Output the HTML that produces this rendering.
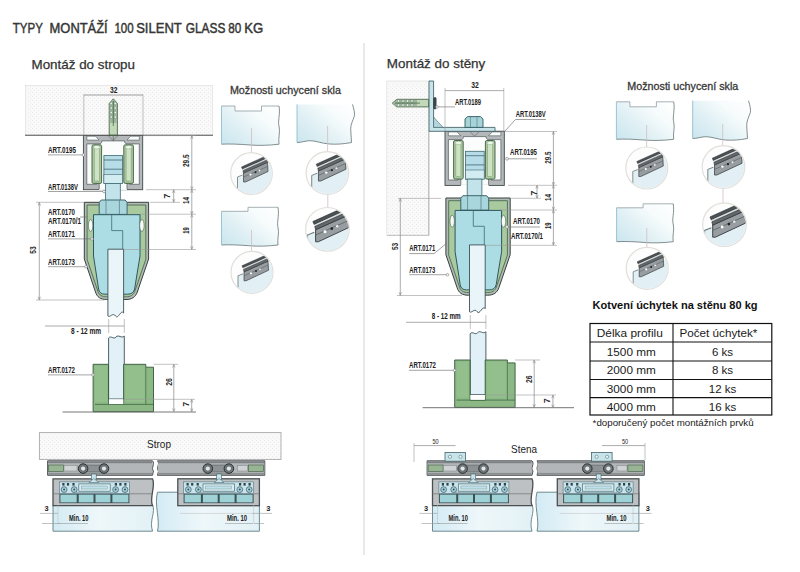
<!DOCTYPE html>
<html><head><meta charset="utf-8"><style>
html,body{margin:0;padding:0;background:#fff;}
body{width:800px;height:572px;overflow:hidden;}
svg{display:block;font-family:"Liberation Sans",sans-serif;}
</style></head><body>
<svg width="800" height="572" viewBox="0 0 800 572">
<defs>
<pattern id="dots" width="4" height="4" patternUnits="userSpaceOnUse">
<rect width="4" height="4" fill="#f9f9f9"/>
<rect x="0" y="0" width="1" height="1" fill="#e9e9e9"/>
<rect x="2" y="2" width="1" height="1" fill="#eeeeee"/>
</pattern>
<linearGradient id="glass" x1="0" y1="0" x2="1" y2="1">
<stop offset="0" stop-color="#cfe8ef"/><stop offset="0.6" stop-color="#eef7fa"/><stop offset="1" stop-color="#d9eef4"/>
</linearGradient>
<linearGradient id="pglass" x1="0" y1="1" x2="1" y2="0.2">
<stop offset="0" stop-color="#c9e5ee"/><stop offset="0.45" stop-color="#e2f1f5"/><stop offset="0.75" stop-color="#f6fbfc"/><stop offset="1" stop-color="#fdfefe"/>
</linearGradient>
<linearGradient id="glassH" x1="0" y1="0" x2="0" y2="1">
<stop offset="0" stop-color="#d7eef6"/><stop offset="1" stop-color="#eaf6fa"/>
</linearGradient>
<linearGradient id="gstrip" x1="0" y1="0" x2="1" y2="0">
<stop offset="0" stop-color="#d3ebf4"/><stop offset="0.45" stop-color="#eef7fa"/><stop offset="1" stop-color="#e2f1f6"/>
</linearGradient>
</defs>
<rect width="800" height="572" fill="#fff"/>

<text x="12.799999999999999" y="33.3" font-size="13.9" textLength="30.099999999999998" lengthAdjust="spacingAndGlyphs" fill="#363636" stroke="#363636" stroke-width="0.45">TYPY</text>
<text x="49.6" y="33.3" font-size="13.9" textLength="58.1" lengthAdjust="spacingAndGlyphs" fill="#363636" stroke="#363636" stroke-width="0.45">MONTÁŽÍ</text>
<text x="114.4" y="33.3" font-size="13.9" textLength="19.199999999999992" lengthAdjust="spacingAndGlyphs" fill="#363636" stroke="#363636" stroke-width="0.45">100</text>
<text x="136.2" y="33.3" font-size="13.9" textLength="45.60000000000001" lengthAdjust="spacingAndGlyphs" fill="#363636" stroke="#363636" stroke-width="0.45">SILENT</text>
<text x="185.7" y="33.3" font-size="13.9" textLength="39.7" lengthAdjust="spacingAndGlyphs" fill="#363636" stroke="#363636" stroke-width="0.45">GLASS</text>
<text x="228.29999999999998" y="33.3" font-size="13.9" textLength="13.000000000000018" lengthAdjust="spacingAndGlyphs" fill="#363636" stroke="#363636" stroke-width="0.45">80</text>
<text x="244.2" y="33.3" font-size="13.9" textLength="18.99999999999999" lengthAdjust="spacingAndGlyphs" fill="#363636" stroke="#363636" stroke-width="0.45">KG</text>
<text x="31.5" y="69.4" font-size="13" text-anchor="start" fill="#333" font-weight="normal" textLength="103.5" lengthAdjust="spacingAndGlyphs" stroke="#333" stroke-width="0.25">Montáž do stropu</text>
<text x="386.8" y="67.9" font-size="13" text-anchor="start" fill="#333" font-weight="normal" textLength="98.5" lengthAdjust="spacingAndGlyphs" stroke="#333" stroke-width="0.25">Montáž do stěny</text>
<line x1="364" y1="43" x2="364" y2="555" stroke="#e4e4e4" stroke-width="1.6" />
<rect x="83.4" y="135.5" width="59.3" height="54.2" fill="#b4b8ba" stroke="#3d4a48" stroke-width="0.9" />
<path d="M86.8,136.2 H95.5 L99.2,140.1 H86.8 Z" fill="#fbfcfc" stroke="#4d5759" stroke-width="0.6" />
<path d="M139.3,136.2 H130.6 L126.9,140.1 H139.3 Z" fill="#fbfcfc" stroke="#4d5759" stroke-width="0.6" />
<path d="M86.8,143.9 H100.3 L101.7,142.3 V140.9 H124.6 V142.3 L126,143.9 H139.3 V184.3 H129.5 V181.7 H127 V189.7 H99.2 V181.7 H96.6 V184.3 H86.8 Z" fill="#fbfcfc" stroke="#4d5759" stroke-width="0.7" />
<line x1="99.2" y1="189.7" x2="127" y2="189.7" stroke="#fff" stroke-width="1.2" />
<path d="M108.5,136 L113,140.5 L117.5,136" fill="none" stroke="#5a6466" stroke-width="0.6" />
<rect x="92.0" y="144.8" width="9.6" height="38.6" fill="#a9c99e" stroke="#3f5a40" stroke-width="0.9" rx="1.5"/>
<rect x="94.3" y="147" width="5" height="34" fill="#cfe2c4" stroke="#7a9c72" stroke-width="0.5" />
<ellipse cx="96.8" cy="147.2" rx="3.2" ry="1.6" fill="#f4f8f2" stroke="#6f9a6a" stroke-width="0.4"/>
<rect x="123.8" y="144.8" width="9.6" height="38.6" fill="#a9c99e" stroke="#3f5a40" stroke-width="0.9" rx="1.5"/>
<rect x="126.1" y="147" width="5" height="34" fill="#cfe2c4" stroke="#7a9c72" stroke-width="0.5" />
<ellipse cx="128.6" cy="147.2" rx="3.2" ry="1.6" fill="#f4f8f2" stroke="#6f9a6a" stroke-width="0.4"/>
<rect x="103.9" y="155.6" width="18.7" height="27.8" fill="#b6dde7" stroke="#3f6870" stroke-width="0.8" />
<rect x="103.9" y="174.3" width="18.7" height="9.1" fill="#d3ecf1" stroke="#3f6870" stroke-width="0.6" />
<line x1="103.9" y1="160" x2="122.6" y2="160" stroke="#3f6870" stroke-width="0.8" />
<line x1="103.9" y1="169.2" x2="122.6" y2="169.2" stroke="#3f6870" stroke-width="0.8" />
<rect x="105.6" y="183.4" width="14.7" height="17.5" fill="#c3e3ea" stroke="#3f6870" stroke-width="0.8" />
<path d="M84.3,202.3 H148.6 V259 L137.3,292 C135.5,297 132,299.5 126,299.5 H106.5 C100.5,299.5 97,297 95.5,292 L84.3,259 Z" fill="#b3b9b6" stroke="#34443c" stroke-width="1.0" />
<path d="M87.1,205 H145.8 V259.4 L134.8,291.2 C133.3,295.3 130.6,296.8 126,296.8 H106.5 C102,296.8 99.2,295.3 97.9,291.2 L87.1,259.4 Z" fill="#a9ca9e" stroke="#3f5f45" stroke-width="0.8" />
<path d="M93.5,214.7 H140 V256 L134.6,289 C133.8,292.5 131.5,294.2 127.5,294.2 H105 C101.2,294.2 99.2,292.5 98.6,289 L93.5,256 Z" fill="#addde4" stroke="#2f5660" stroke-width="1.0" />
<ellipse cx="90.6" cy="225.5" rx="2.2" ry="6" fill="#f7faf7" stroke="#3f5f45" stroke-width="0.6"/>
<ellipse cx="141.9" cy="225.5" rx="2.2" ry="6" fill="#f7faf7" stroke="#3f5f45" stroke-width="0.6"/>
<path d="M111.7,214.2 V230.6 H122.7 V249" fill="none" stroke="#3f6870" stroke-width="0.8" />
<path d="M99.2,214.4 V202.5 L101.2,200 H125.1 L127.1,202.5 V214.4 Z" fill="#a9d6dc" stroke="#2f5a60" stroke-width="0.9" />
<line x1="106" y1="200.4" x2="106" y2="214.2" stroke="#3f6870" stroke-width="0.6" />
<line x1="119.4" y1="200.4" x2="119.4" y2="214.2" stroke="#3f6870" stroke-width="0.6" />
<path d="M107.9,249.2 H123.6 V313 C121,309 118,320 115.5,316 C113,312 110,318 107.9,316 Z" fill="#e9f5f9" stroke="#3a4f55" stroke-width="0.9" />
<path d="M108.6,338 C111,335 113.5,340 116,337 C118.5,334 121.5,339 124.3,336 V399 H108.6 Z" fill="#e2f1f8" stroke="#3a4f55" stroke-width="0.9" />
<path d="M93.1,364.3 H108.5 V404.4 H123.6 V364.3 H145.8 V367.2 H153.5 V411.7 H93.1 Z" fill="#8cb885" stroke="#36583a" stroke-width="0.9" />
<rect x="95" y="366" width="12" height="36" fill="#93bf8c" stroke="none" stroke-width="1" />
<rect x="125.5" y="366" width="19" height="36" fill="#93bf8c" stroke="none" stroke-width="1" />
<line x1="145.8" y1="367.2" x2="145.8" y2="404.4" stroke="#3e6a42" stroke-width="0.7" />
<line x1="95" y1="404.4" x2="153.5" y2="404.4" stroke="#3e6a42" stroke-width="0.8" />
<rect x="108.9" y="399.3" width="14.4" height="4.8" fill="#ffffff" stroke="none" stroke-width="1" />
<rect x="25.5" y="85.5" width="187" height="49.5" fill="url(#dots)" stroke="none" stroke-width="1" />
<rect x="25.5" y="85.5" width="187" height="49.5" fill="none" stroke="#dadada" stroke-width="0.6" />
<line x1="25" y1="135.2" x2="213" y2="135.2" stroke="#555" stroke-width="1.1" />
<line x1="83.8" y1="94.5" x2="83.8" y2="135" stroke="#999" stroke-width="0.6" />
<line x1="143" y1="94.5" x2="143" y2="135" stroke="#999" stroke-width="0.6" />
<line x1="83.8" y1="95" x2="143" y2="95" stroke="#777" stroke-width="0.7" />
<text x="113.8" y="92.5" font-size="8.4" text-anchor="middle" fill="#222" font-weight="bold" textLength="7.5" lengthAdjust="spacingAndGlyphs" >32</text>
<path d="M113.3,98.8 L117.4,103.5 V135 H109.2 V103.5 Z" fill="#c3d8b9" stroke="#3b5a3e" stroke-width="0.8" />
<path d="M113.3,99.6 L116.8,103.8 V123 H109.8 V103.8 Z" fill="#9db59c" stroke="none" stroke-width="1" />
<circle cx="111.3" cy="103.5" r="1.25" fill="#f2f6f0" stroke="#4d6b50" stroke-width="0.4"/>
<circle cx="115.3" cy="103.5" r="1.25" fill="#f2f6f0" stroke="#4d6b50" stroke-width="0.4"/>
<circle cx="111.3" cy="108" r="1.25" fill="#f2f6f0" stroke="#4d6b50" stroke-width="0.4"/>
<circle cx="115.3" cy="108" r="1.25" fill="#f2f6f0" stroke="#4d6b50" stroke-width="0.4"/>
<circle cx="111.3" cy="112.5" r="1.25" fill="#f2f6f0" stroke="#4d6b50" stroke-width="0.4"/>
<circle cx="115.3" cy="112.5" r="1.25" fill="#f2f6f0" stroke="#4d6b50" stroke-width="0.4"/>
<circle cx="111.3" cy="117" r="1.25" fill="#f2f6f0" stroke="#4d6b50" stroke-width="0.4"/>
<circle cx="115.3" cy="117" r="1.25" fill="#f2f6f0" stroke="#4d6b50" stroke-width="0.4"/>
<line x1="113.3" y1="101" x2="113.3" y2="126" stroke="#3b5a3e" stroke-width="0.7" />
<line x1="113.3" y1="135" x2="113.3" y2="141" stroke="#586e55" stroke-width="0.7" />
<text x="48" y="153" font-size="8.4" text-anchor="start" fill="#222" font-weight="bold" textLength="28" lengthAdjust="spacingAndGlyphs" >ART.0195</text>
<line x1="48" y1="154.9" x2="83.4" y2="154.9" stroke="#666" stroke-width="0.6" />
<circle cx="83.4" cy="154.9" r="1.3" fill="#fff" stroke="#777" stroke-width="0.6"/>
<text x="48" y="189.6" font-size="8.4" text-anchor="start" fill="#222" font-weight="bold" textLength="30" lengthAdjust="spacingAndGlyphs" >ART.0138V</text>
<line x1="48" y1="191.5" x2="104" y2="191.5" stroke="#666" stroke-width="0.6" />
<circle cx="104" cy="191.5" r="1.3" fill="#fff" stroke="#777" stroke-width="0.6"/>
<text x="48" y="214.8" font-size="8.4" text-anchor="start" fill="#222" font-weight="bold" textLength="27" lengthAdjust="spacingAndGlyphs" >ART.0170</text>
<line x1="80" y1="217" x2="87.5" y2="217" stroke="#777" stroke-width="0.7" />
<text x="48" y="224.2" font-size="8.4" text-anchor="start" fill="#222" font-weight="bold" textLength="33" lengthAdjust="spacingAndGlyphs" >ART.0170/1</text>
<text x="48" y="237" font-size="8.4" text-anchor="start" fill="#222" font-weight="bold" textLength="27" lengthAdjust="spacingAndGlyphs" >ART.0171</text>
<line x1="48" y1="238.9" x2="92" y2="238.9" stroke="#666" stroke-width="0.6" />
<circle cx="92" cy="238.9" r="1.3" fill="#fff" stroke="#777" stroke-width="0.6"/>
<text x="48" y="264.8" font-size="8.4" text-anchor="start" fill="#222" font-weight="bold" textLength="27" lengthAdjust="spacingAndGlyphs" >ART.0173</text>
<line x1="48" y1="266.7" x2="86" y2="266.7" stroke="#666" stroke-width="0.6" />
<circle cx="86" cy="266.7" r="1.3" fill="#fff" stroke="#777" stroke-width="0.6"/>
<text x="48" y="373" font-size="8.4" text-anchor="start" fill="#222" font-weight="bold" textLength="27" lengthAdjust="spacingAndGlyphs" >ART.0172</text>
<line x1="48" y1="374.9" x2="93" y2="374.9" stroke="#666" stroke-width="0.6" />
<circle cx="93" cy="374.9" r="1.3" fill="#fff" stroke="#777" stroke-width="0.6"/>
<line x1="146" y1="189.7" x2="196" y2="189.7" stroke="#999" stroke-width="0.6" />
<line x1="150" y1="202.3" x2="180" y2="202.3" stroke="#999" stroke-width="0.6" />
<line x1="140" y1="214.2" x2="196" y2="214.2" stroke="#999" stroke-width="0.6" />
<line x1="124" y1="249.5" x2="196" y2="249.5" stroke="#999" stroke-width="0.6" />
<line x1="144" y1="135.6" x2="196" y2="135.6" stroke="#999" stroke-width="0.6" />
<line x1="191.8" y1="135.8" x2="191.8" y2="189.5" stroke="#888" stroke-width="0.7" />
<path d="M190.60000000000002,138.8 L191.8,135.8 L193.0,138.8" fill="none" stroke="#888" stroke-width="0.6"/>
<path d="M190.60000000000002,186.5 L191.8,189.5 L193.0,186.5" fill="none" stroke="#888" stroke-width="0.6"/>
<text x="189.3" y="160.7" font-size="8.6" text-anchor="middle" fill="#2a2a2a" font-weight="bold" textLength="12.6" lengthAdjust="spacingAndGlyphs" transform="rotate(-90 189.3 160.7)" >29.5</text>
<line x1="173.7" y1="189.9" x2="173.7" y2="202.2" stroke="#888" stroke-width="0.7" />
<path d="M172.5,192.9 L173.7,189.9 L174.89999999999998,192.9" fill="none" stroke="#888" stroke-width="0.6"/>
<path d="M172.5,199.2 L173.7,202.2 L174.89999999999998,199.2" fill="none" stroke="#888" stroke-width="0.6"/>
<text x="170.3" y="196" font-size="8.6" text-anchor="middle" fill="#2a2a2a" font-weight="bold" transform="rotate(-90 170.3 196)" >7</text>
<line x1="191.8" y1="189.9" x2="191.8" y2="214" stroke="#888" stroke-width="0.7" />
<path d="M190.60000000000002,192.9 L191.8,189.9 L193.0,192.9" fill="none" stroke="#888" stroke-width="0.6"/>
<path d="M190.60000000000002,211 L191.8,214 L193.0,211" fill="none" stroke="#888" stroke-width="0.6"/>
<text x="189.2" y="200.5" font-size="8.6" text-anchor="middle" fill="#2a2a2a" font-weight="bold" textLength="7" lengthAdjust="spacingAndGlyphs" transform="rotate(-90 189.2 200.5)" >14</text>
<line x1="191.8" y1="214.4" x2="191.8" y2="249.3" stroke="#888" stroke-width="0.7" />
<path d="M190.60000000000002,217.4 L191.8,214.4 L193.0,217.4" fill="none" stroke="#888" stroke-width="0.6"/>
<path d="M190.60000000000002,246.3 L191.8,249.3 L193.0,246.3" fill="none" stroke="#888" stroke-width="0.6"/>
<text x="189.2" y="230.5" font-size="8.6" text-anchor="middle" fill="#2a2a2a" font-weight="bold" textLength="6.5" lengthAdjust="spacingAndGlyphs" transform="rotate(-90 189.2 230.5)" >19</text>
<line x1="36" y1="202.3" x2="84" y2="202.3" stroke="#999" stroke-width="0.6" />
<line x1="36" y1="300" x2="104" y2="300" stroke="#999" stroke-width="0.6" />
<line x1="39.3" y1="202.5" x2="39.3" y2="299.8" stroke="#888" stroke-width="0.7" />
<path d="M38.099999999999994,205.5 L39.3,202.5 L40.5,205.5" fill="none" stroke="#888" stroke-width="0.6"/>
<path d="M38.099999999999994,296.8 L39.3,299.8 L40.5,296.8" fill="none" stroke="#888" stroke-width="0.6"/>
<text x="36.3" y="250" font-size="8.6" text-anchor="middle" fill="#2a2a2a" font-weight="bold" textLength="7.4" lengthAdjust="spacingAndGlyphs" transform="rotate(-90 36.3 250)" >53</text>
<line x1="45" y1="326" x2="124.5" y2="326" stroke="#888" stroke-width="0.7" />
<line x1="108.7" y1="319" x2="108.7" y2="333" stroke="#999" stroke-width="0.6" />
<line x1="124.3" y1="319" x2="124.3" y2="333" stroke="#999" stroke-width="0.6" />
<text x="86" y="334" font-size="8.4" text-anchor="middle" fill="#222" font-weight="bold" textLength="30" lengthAdjust="spacingAndGlyphs" >8 - 12 mm</text>
<line x1="62.5" y1="412" x2="196" y2="412" stroke="#666" stroke-width="0.9" />
<line x1="153.5" y1="364.3" x2="178" y2="364.3" stroke="#999" stroke-width="0.6" />
<line x1="124" y1="399.3" x2="195" y2="399.3" stroke="#999" stroke-width="0.6" />
<line x1="173.8" y1="364.5" x2="173.8" y2="411.5" stroke="#888" stroke-width="0.7" />
<path d="M172.60000000000002,367.5 L173.8,364.5 L175.0,367.5" fill="none" stroke="#888" stroke-width="0.6"/>
<path d="M172.60000000000002,408.5 L173.8,411.5 L175.0,408.5" fill="none" stroke="#888" stroke-width="0.6"/>
<text x="172" y="382" font-size="9" text-anchor="middle" fill="#2a2a2a" font-weight="bold" textLength="7.7" lengthAdjust="spacingAndGlyphs" transform="rotate(-90 172 382)" >26</text>
<line x1="191.7" y1="399.5" x2="191.7" y2="411.5" stroke="#888" stroke-width="0.7" />
<path d="M190.5,402.5 L191.7,399.5 L192.89999999999998,402.5" fill="none" stroke="#888" stroke-width="0.6"/>
<path d="M190.5,408.5 L191.7,411.5 L192.89999999999998,408.5" fill="none" stroke="#888" stroke-width="0.6"/>
<text x="189.3" y="404.3" font-size="9" text-anchor="middle" fill="#2a2a2a" font-weight="bold" transform="rotate(-90 189.3 404.3)" >7</text>
<g transform="translate(361.6,-4.3)">
<rect x="83.4" y="135.5" width="59.3" height="54.2" fill="#b4b8ba" stroke="#3d4a48" stroke-width="0.9" />
<path d="M86.8,136.2 H95.5 L99.2,140.1 H86.8 Z" fill="#fbfcfc" stroke="#4d5759" stroke-width="0.6" />
<path d="M139.3,136.2 H130.6 L126.9,140.1 H139.3 Z" fill="#fbfcfc" stroke="#4d5759" stroke-width="0.6" />
<path d="M86.8,143.9 H100.3 L101.7,142.3 V140.9 H124.6 V142.3 L126,143.9 H139.3 V184.3 H129.5 V181.7 H127 V189.7 H99.2 V181.7 H96.6 V184.3 H86.8 Z" fill="#fbfcfc" stroke="#4d5759" stroke-width="0.7" />
<line x1="99.2" y1="189.7" x2="127" y2="189.7" stroke="#fff" stroke-width="1.2" />
<path d="M108.5,136 L113,140.5 L117.5,136" fill="none" stroke="#5a6466" stroke-width="0.6" />
<rect x="92.0" y="144.8" width="9.6" height="38.6" fill="#a9c99e" stroke="#3f5a40" stroke-width="0.9" rx="1.5"/>
<rect x="94.3" y="147" width="5" height="34" fill="#cfe2c4" stroke="#7a9c72" stroke-width="0.5" />
<ellipse cx="96.8" cy="147.2" rx="3.2" ry="1.6" fill="#f4f8f2" stroke="#6f9a6a" stroke-width="0.4"/>
<rect x="123.8" y="144.8" width="9.6" height="38.6" fill="#a9c99e" stroke="#3f5a40" stroke-width="0.9" rx="1.5"/>
<rect x="126.1" y="147" width="5" height="34" fill="#cfe2c4" stroke="#7a9c72" stroke-width="0.5" />
<ellipse cx="128.6" cy="147.2" rx="3.2" ry="1.6" fill="#f4f8f2" stroke="#6f9a6a" stroke-width="0.4"/>
<rect x="103.9" y="155.6" width="18.7" height="27.8" fill="#b6dde7" stroke="#3f6870" stroke-width="0.8" />
<rect x="103.9" y="174.3" width="18.7" height="9.1" fill="#d3ecf1" stroke="#3f6870" stroke-width="0.6" />
<line x1="103.9" y1="160" x2="122.6" y2="160" stroke="#3f6870" stroke-width="0.8" />
<line x1="103.9" y1="169.2" x2="122.6" y2="169.2" stroke="#3f6870" stroke-width="0.8" />
<rect x="105.6" y="183.4" width="14.7" height="17.5" fill="#c3e3ea" stroke="#3f6870" stroke-width="0.8" />
<path d="M84.3,202.3 H148.6 V259 L137.3,292 C135.5,297 132,299.5 126,299.5 H106.5 C100.5,299.5 97,297 95.5,292 L84.3,259 Z" fill="#b3b9b6" stroke="#34443c" stroke-width="1.0" />
<path d="M87.1,205 H145.8 V259.4 L134.8,291.2 C133.3,295.3 130.6,296.8 126,296.8 H106.5 C102,296.8 99.2,295.3 97.9,291.2 L87.1,259.4 Z" fill="#a9ca9e" stroke="#3f5f45" stroke-width="0.8" />
<path d="M93.5,214.7 H140 V256 L134.6,289 C133.8,292.5 131.5,294.2 127.5,294.2 H105 C101.2,294.2 99.2,292.5 98.6,289 L93.5,256 Z" fill="#addde4" stroke="#2f5660" stroke-width="1.0" />
<ellipse cx="90.6" cy="225.5" rx="2.2" ry="6" fill="#f7faf7" stroke="#3f5f45" stroke-width="0.6"/>
<ellipse cx="141.9" cy="225.5" rx="2.2" ry="6" fill="#f7faf7" stroke="#3f5f45" stroke-width="0.6"/>
<path d="M111.7,214.2 V230.6 H122.7 V249" fill="none" stroke="#3f6870" stroke-width="0.8" />
<path d="M99.2,214.4 V202.5 L101.2,200 H125.1 L127.1,202.5 V214.4 Z" fill="#a9d6dc" stroke="#2f5a60" stroke-width="0.9" />
<line x1="106" y1="200.4" x2="106" y2="214.2" stroke="#3f6870" stroke-width="0.6" />
<line x1="119.4" y1="200.4" x2="119.4" y2="214.2" stroke="#3f6870" stroke-width="0.6" />
<path d="M107.9,249.2 H123.6 V313 C121,309 118,320 115.5,316 C113,312 110,318 107.9,316 Z" fill="#e9f5f9" stroke="#3a4f55" stroke-width="0.9" />
<path d="M108.6,338 C111,335 113.5,340 116,337 C118.5,334 121.5,339 124.3,336 V399 H108.6 Z" fill="#e2f1f8" stroke="#3a4f55" stroke-width="0.9" />
<path d="M93.1,364.3 H108.5 V404.4 H123.6 V364.3 H145.8 V367.2 H153.5 V411.7 H93.1 Z" fill="#8cb885" stroke="#36583a" stroke-width="0.9" />
<rect x="95" y="366" width="12" height="36" fill="#93bf8c" stroke="none" stroke-width="1" />
<rect x="125.5" y="366" width="19" height="36" fill="#93bf8c" stroke="none" stroke-width="1" />
<line x1="145.8" y1="367.2" x2="145.8" y2="404.4" stroke="#3e6a42" stroke-width="0.7" />
<line x1="95" y1="404.4" x2="153.5" y2="404.4" stroke="#3e6a42" stroke-width="0.8" />
<rect x="108.9" y="399.3" width="14.4" height="4.8" fill="#ffffff" stroke="none" stroke-width="1" />
</g>
<rect x="386.8" y="81" width="42.2" height="154.4" fill="url(#dots)" stroke="none" stroke-width="1" />
<rect x="386.8" y="81" width="42.2" height="154.4" fill="none" stroke="#d8d8d8" stroke-width="0.6" />
<line x1="428.8" y1="131" x2="428.8" y2="235.3" stroke="#a0a0a0" stroke-width="0.8" />
<line x1="387" y1="235.3" x2="429" y2="235.3" stroke="#b5b5b5" stroke-width="0.8" />
<path d="M429,81 H433.6 V127.4 H495 V131.3 H429 Z" fill="#c6e4ea" stroke="#48656a" stroke-width="0.9" />
<path d="M433.6,117 L443,127.4 H433.6 Z" fill="#b3d6de" stroke="#48656a" stroke-width="0.6" />
<path d="M392.3,103.1 L396.8,99.3 H428.6 V106.9 H396.8 Z" fill="#c3d8b9" stroke="#3b5a3e" stroke-width="0.8" />
<path d="M393.2,103.1 L397,99.9 H417 V106.3 H397 Z" fill="#9db59c" stroke="none" stroke-width="1" />
<circle cx="398.5" cy="101.1" r="1.25" fill="#f2f6f0" stroke="#4d6b50" stroke-width="0.4"/>
<circle cx="398.5" cy="105.1" r="1.25" fill="#f2f6f0" stroke="#4d6b50" stroke-width="0.4"/>
<circle cx="403" cy="101.1" r="1.25" fill="#f2f6f0" stroke="#4d6b50" stroke-width="0.4"/>
<circle cx="403" cy="105.1" r="1.25" fill="#f2f6f0" stroke="#4d6b50" stroke-width="0.4"/>
<circle cx="407.5" cy="101.1" r="1.25" fill="#f2f6f0" stroke="#4d6b50" stroke-width="0.4"/>
<circle cx="407.5" cy="105.1" r="1.25" fill="#f2f6f0" stroke="#4d6b50" stroke-width="0.4"/>
<circle cx="412" cy="101.1" r="1.25" fill="#f2f6f0" stroke="#4d6b50" stroke-width="0.4"/>
<circle cx="412" cy="105.1" r="1.25" fill="#f2f6f0" stroke="#4d6b50" stroke-width="0.4"/>
<line x1="395" y1="103.1" x2="420" y2="103.1" stroke="#3b5a3e" stroke-width="0.7" />
<rect x="433.6" y="97.5" width="2.6" height="11.5" fill="#3d4a4a" stroke="#2a3333" stroke-width="0.5" rx="1"/>
<path d="M465,127.4 V119 L467.5,116.6 H480.5 L483,119 V127.4 Z" fill="#a5d3d8" stroke="#2f5a60" stroke-width="0.9" />
<line x1="470.5" y1="117" x2="470.5" y2="127.4" stroke="#3f6870" stroke-width="0.5" />
<line x1="477" y1="117" x2="477" y2="127.4" stroke="#3f6870" stroke-width="0.5" />
<line x1="445" y1="88" x2="445" y2="131" stroke="#999" stroke-width="0.6" />
<line x1="503.8" y1="88" x2="503.8" y2="131" stroke="#999" stroke-width="0.6" />
<line x1="445" y1="90.6" x2="503.8" y2="90.6" stroke="#888" stroke-width="0.7" />
<text x="475" y="88.4" font-size="8.4" text-anchor="middle" fill="#222" font-weight="bold" textLength="7.5" lengthAdjust="spacingAndGlyphs" >32</text>
<text x="455" y="105" font-size="8.4" text-anchor="start" fill="#222" font-weight="bold" textLength="26" lengthAdjust="spacingAndGlyphs" >ART.0189</text>
<line x1="455" y1="106.9" x2="437" y2="106.9" stroke="#666" stroke-width="0.6" />
<circle cx="437" cy="106.9" r="1.3" fill="#fff" stroke="#777" stroke-width="0.6"/>
<text x="515.7" y="117" font-size="8.4" text-anchor="start" fill="#222" font-weight="bold" textLength="30" lengthAdjust="spacingAndGlyphs" >ART.0138V</text>
<path d="M505,131 L515.5,119.5 H546" fill="none" stroke="#777" stroke-width="0.7" />
<text x="510" y="155" font-size="8.4" text-anchor="start" fill="#222" font-weight="bold" textLength="27" lengthAdjust="spacingAndGlyphs" >ART.0195</text>
<line x1="507" y1="158.8" x2="537" y2="158.8" stroke="#777" stroke-width="0.7" />
<circle cx="507" cy="158.8" r="1.4" fill="#fff" stroke="#777" stroke-width="0.6"/>
<text x="513" y="223.5" font-size="8.4" text-anchor="start" fill="#222" font-weight="bold" textLength="27" lengthAdjust="spacingAndGlyphs" >ART.0170</text>
<line x1="507" y1="227" x2="540" y2="227" stroke="#777" stroke-width="0.7" />
<circle cx="507" cy="227" r="1.4" fill="#fff" stroke="#777" stroke-width="0.6"/>
<text x="511" y="239" font-size="8.4" text-anchor="start" fill="#222" font-weight="bold" textLength="32" lengthAdjust="spacingAndGlyphs" >ART.0170/1</text>
<text x="409.3" y="251.4" font-size="8.4" text-anchor="start" fill="#222" font-weight="bold" textLength="26" lengthAdjust="spacingAndGlyphs" >ART.0171</text>
<path d="M409.3,253.6 H434 L447,243" fill="none" stroke="#777" stroke-width="0.7" />
<text x="409.3" y="272.8" font-size="8.4" text-anchor="start" fill="#222" font-weight="bold" textLength="26" lengthAdjust="spacingAndGlyphs" >ART.0173</text>
<line x1="409.3" y1="274.7" x2="447.5" y2="274.7" stroke="#666" stroke-width="0.6" />
<circle cx="447.5" cy="274.7" r="1.3" fill="#fff" stroke="#777" stroke-width="0.6"/>
<text x="409" y="368.4" font-size="8.4" text-anchor="start" fill="#222" font-weight="bold" textLength="27" lengthAdjust="spacingAndGlyphs" >ART.0172</text>
<line x1="409" y1="370.29999999999995" x2="454.5" y2="370.29999999999995" stroke="#666" stroke-width="0.6" />
<circle cx="454.5" cy="370.29999999999995" r="1.3" fill="#fff" stroke="#777" stroke-width="0.6"/>
<line x1="505" y1="131.5" x2="557" y2="131.5" stroke="#999" stroke-width="0.6" />
<line x1="508" y1="185.3" x2="557" y2="185.3" stroke="#999" stroke-width="0.6" />
<line x1="510" y1="198.3" x2="541" y2="198.3" stroke="#999" stroke-width="0.6" />
<line x1="500" y1="210" x2="557" y2="210" stroke="#999" stroke-width="0.6" />
<line x1="486" y1="245.3" x2="557" y2="245.3" stroke="#999" stroke-width="0.6" />
<line x1="553.4" y1="131.7" x2="553.4" y2="185.1" stroke="#888" stroke-width="0.7" />
<path d="M552.1999999999999,134.7 L553.4,131.7 L554.6,134.7" fill="none" stroke="#888" stroke-width="0.6"/>
<path d="M552.1999999999999,182.1 L553.4,185.1 L554.6,182.1" fill="none" stroke="#888" stroke-width="0.6"/>
<text x="551" y="157.6" font-size="8.6" text-anchor="middle" fill="#2a2a2a" font-weight="bold" textLength="12.4" lengthAdjust="spacingAndGlyphs" transform="rotate(-90 551 157.6)" >29.5</text>
<line x1="537" y1="185.5" x2="537" y2="198.1" stroke="#888" stroke-width="0.7" />
<path d="M535.8,188.5 L537,185.5 L538.2,188.5" fill="none" stroke="#888" stroke-width="0.6"/>
<path d="M535.8,195.1 L537,198.1 L538.2,195.1" fill="none" stroke="#888" stroke-width="0.6"/>
<text x="536.5" y="193" font-size="8.6" text-anchor="middle" fill="#2a2a2a" font-weight="bold" transform="rotate(-90 536.5 193)" >7</text>
<line x1="553.4" y1="185.5" x2="553.4" y2="209.8" stroke="#888" stroke-width="0.7" />
<path d="M552.1999999999999,188.5 L553.4,185.5 L554.6,188.5" fill="none" stroke="#888" stroke-width="0.6"/>
<path d="M552.1999999999999,206.8 L553.4,209.8 L554.6,206.8" fill="none" stroke="#888" stroke-width="0.6"/>
<text x="551" y="197.6" font-size="8.6" text-anchor="middle" fill="#2a2a2a" font-weight="bold" textLength="7" lengthAdjust="spacingAndGlyphs" transform="rotate(-90 551 197.6)" >14</text>
<line x1="553.4" y1="210.2" x2="553.4" y2="245.1" stroke="#888" stroke-width="0.7" />
<path d="M552.1999999999999,213.2 L553.4,210.2 L554.6,213.2" fill="none" stroke="#888" stroke-width="0.6"/>
<path d="M552.1999999999999,242.1 L553.4,245.1 L554.6,242.1" fill="none" stroke="#888" stroke-width="0.6"/>
<text x="551" y="225.7" font-size="8.6" text-anchor="middle" fill="#2a2a2a" font-weight="bold" textLength="6.5" lengthAdjust="spacingAndGlyphs" transform="rotate(-90 551 225.7)" >19</text>
<line x1="398" y1="198.4" x2="441" y2="198.4" stroke="#999" stroke-width="0.6" />
<line x1="397" y1="295.5" x2="462" y2="295.5" stroke="#999" stroke-width="0.6" />
<line x1="400.3" y1="198.5" x2="400.3" y2="295.3" stroke="#888" stroke-width="0.7" />
<path d="M399.1,201.5 L400.3,198.5 L401.5,201.5" fill="none" stroke="#888" stroke-width="0.6"/>
<path d="M399.1,292.3 L400.3,295.3 L401.5,292.3" fill="none" stroke="#888" stroke-width="0.6"/>
<text x="398" y="246.4" font-size="8.6" text-anchor="middle" fill="#2a2a2a" font-weight="bold" textLength="7.4" lengthAdjust="spacingAndGlyphs" transform="rotate(-90 398 246.4)" >53</text>
<line x1="406" y1="322.3" x2="486" y2="322.3" stroke="#888" stroke-width="0.7" />
<line x1="470.3" y1="315" x2="470.3" y2="329" stroke="#999" stroke-width="0.6" />
<line x1="485.9" y1="315" x2="485.9" y2="329" stroke="#999" stroke-width="0.6" />
<text x="446.2" y="319" font-size="8.4" text-anchor="middle" fill="#222" font-weight="bold" textLength="29" lengthAdjust="spacingAndGlyphs" >8 - 12 mm</text>
<line x1="422.6" y1="407.7" x2="574" y2="407.7" stroke="#666" stroke-width="0.9" />
<line x1="515" y1="360" x2="540" y2="360" stroke="#999" stroke-width="0.6" />
<line x1="485" y1="395" x2="556" y2="395" stroke="#999" stroke-width="0.6" />
<line x1="534.2" y1="360.2" x2="534.2" y2="407.2" stroke="#888" stroke-width="0.7" />
<path d="M533.0,363.2 L534.2,360.2 L535.4000000000001,363.2" fill="none" stroke="#888" stroke-width="0.6"/>
<path d="M533.0,404.2 L534.2,407.2 L535.4000000000001,404.2" fill="none" stroke="#888" stroke-width="0.6"/>
<text x="532.4" y="379.2" font-size="9" text-anchor="middle" fill="#2a2a2a" font-weight="bold" textLength="7.7" lengthAdjust="spacingAndGlyphs" transform="rotate(-90 532.4 379.2)" >26</text>
<line x1="552.9" y1="395.2" x2="552.9" y2="407.7" stroke="#888" stroke-width="0.7" />
<path d="M551.6999999999999,398.2 L552.9,395.2 L554.1,398.2" fill="none" stroke="#888" stroke-width="0.6"/>
<path d="M551.6999999999999,404.7 L552.9,407.7 L554.1,404.7" fill="none" stroke="#888" stroke-width="0.6"/>
<text x="550" y="400.8" font-size="9" text-anchor="middle" fill="#2a2a2a" font-weight="bold" transform="rotate(-90 550 400.8)" >7</text>
<text x="229.9" y="94.3" font-size="10.5" text-anchor="start" fill="#383838" font-weight="normal" textLength="111" lengthAdjust="spacingAndGlyphs" stroke="#383838" stroke-width="0.3">Možnosti uchycení skla</text>
<path d="M221.5,106 H235.0 V111 H261.5 V106 H279 C280.5,114 277.5,122 279,126 C280.5,132 278,138.2 279,144.2 C269,145.39999999999998 259,145.7 250.25,145.0 C239.5,144.2 229.5,143.7 221.5,144.2 Z" fill="url(#pglass)" stroke="none" stroke-width="1" />
<path d="M221.5,106 H235.0 V111 H261.5 V106 H279" fill="none" stroke="#8f9ea2" stroke-width="0.8" />
<path d="M279,106 C280.5,114 277.5,122 279,126 C280.5,132 278,138.2 279,144.2 C269,145.39999999999998 259,145.7 250.25,145.0 C239.5,144.2 229.5,143.7 221.5,144.2" fill="none" stroke="#667477" stroke-width="0.8" />
<line x1="221.5" y1="106" x2="221.5" y2="144.2" stroke="#8fbfcc" stroke-width="0.9" />
<path d="M297,104.4 H352.5 C354.0,109.4 355.0,113.4 354.3,116.4 C353.0,120.4 350.5,124.4 350.7,129.4 L351.5,142.5 C343.5,144.0 336.5,144.5 329.5,144.0 C321.5,143.5 315.5,140.5 309.5,140.7 C305,141.0 301,142.5 297,142.5 Z" fill="url(#pglass)" stroke="none" stroke-width="1" />
<path d="M352.5,104.4 C354.0,109.4 355.0,113.4 354.3,116.4 C353.0,120.4 350.5,124.4 350.7,129.4 L351.5,142.5 C343.5,144.0 336.5,144.5 329.5,144.0 C321.5,143.5 315.5,140.5 309.5,140.7 C305,141.0 301,142.5 297,142.5" fill="none" stroke="#667477" stroke-width="0.8" />
<line x1="297" y1="104.4" x2="297" y2="142.5" stroke="#8fbfcc" stroke-width="0.9" />
<path d="M221.5,211.3 H248.0 V207.3 H278 C279.5,215.3 276.5,223.3 278,227.3 C279.5,233.3 277,239 278,245 C268,246.2 258,246.5 249.75,245.8 C239.5,245 229.5,244.5 221.5,245 Z" fill="url(#pglass)" stroke="none" stroke-width="1" />
<path d="M221.5,211.3 H248.0 V207.3 H278" fill="none" stroke="#8f9ea2" stroke-width="0.8" />
<path d="M278,207.3 C279.5,215.3 276.5,223.3 278,227.3 C279.5,233.3 277,239 278,245 C268,246.2 258,246.5 249.75,245.8 C239.5,245 229.5,244.5 221.5,245" fill="none" stroke="#667477" stroke-width="0.8" />
<line x1="221.5" y1="211.3" x2="221.5" y2="245" stroke="#8fbfcc" stroke-width="0.9" />
<line x1="251.5" y1="128" x2="251.5" y2="152.5" stroke="#cdbfc0" stroke-width="0.8" />
<line x1="327.6" y1="126" x2="327.6" y2="151.5" stroke="#cdbfc0" stroke-width="0.8" />
<line x1="327.8" y1="194.5" x2="327.8" y2="207.3" stroke="#cdbfc0" stroke-width="0.8" />
<line x1="251.5" y1="230" x2="251.5" y2="251" stroke="#cdbfc0" stroke-width="0.8" />
<clipPath id="cc251173"><circle cx="251.5" cy="173.5" r="20.2"/></clipPath>
<circle cx="251.5" cy="173.5" r="20.8" fill="#fdfdfd" stroke="#e0dfda" stroke-width="1.2"/>
<g clip-path="url(#cc251173)">
<g transform="translate(251.5,173.5) scale(1.0) translate(-251.5,-173.5)">
<path d="M237.5,194.3 V177.0 L242.5,175.0 L272.3,163.5 V194.3 Z" fill="#e2f0f5" stroke="none" stroke-width="1" />
<path d="M237.5,194.3 V177.0 L242.5,175.0" fill="none" stroke="#6b7678" stroke-width="0.8" />
<path d="M243.5,173.0 L267.5,162.2 L268.0,171.5 L245.5,182.0 L243.5,182.0 Z" fill="#979da0" stroke="#3a3f41" stroke-width="0.7" />
<path d="M241.5,167.0 L265.5,156.2 L266.5,158.5 L242.5,169.3 Z" fill="#4a5053" stroke="#2a2e30" stroke-width="0.5" />
<path d="M242.5,169.3 L266.5,158.5 L267.0,159.9 L242.9,170.7 Z" fill="#d9dcdd" stroke="none" stroke-width="1" />
<path d="M242.9,170.7 L267.0,159.9 L267.7,162.3 L243.5,173.1 Z" fill="#62686b" stroke="#2a2e30" stroke-width="0.5" />
<line x1="243.5" y1="177.0" x2="267.8" y2="166.3" stroke="#5c6265" stroke-width="0.6" />
<circle cx="250.5" cy="174.5" r="1.1" fill="#fff"/>
<circle cx="255.5" cy="172.3" r="1" fill="#222"/>
<circle cx="259.5" cy="170.5" r="0.9" fill="#eee"/>
</g>
</g>
<clipPath id="cc327173"><circle cx="327.4" cy="173" r="20.7"/></clipPath>
<circle cx="327.4" cy="173" r="21.3" fill="#fdfdfd" stroke="#e0dfda" stroke-width="1.2"/>
<g clip-path="url(#cc327173)">
<g transform="translate(327.4,171.5) scale(1.12) translate(-327.4,-173)">
<path d="M313.4,194.3 V176.5 L318.4,174.5 L348.7,163 V194.3 Z" fill="#e2f0f5" stroke="none" stroke-width="1" />
<path d="M313.4,194.3 V176.5 L318.4,174.5" fill="none" stroke="#6b7678" stroke-width="0.8" />
<path d="M319.4,172.5 L343.4,161.7 L343.9,171 L321.4,181.5 L319.4,181.5 Z" fill="#979da0" stroke="#3a3f41" stroke-width="0.7" />
<path d="M317.4,166.5 L341.4,155.7 L342.4,158 L318.4,168.8 Z" fill="#4a5053" stroke="#2a2e30" stroke-width="0.5" />
<path d="M318.4,168.8 L342.4,158 L342.9,159.4 L318.79999999999995,170.2 Z" fill="#d9dcdd" stroke="none" stroke-width="1" />
<path d="M318.79999999999995,170.2 L342.9,159.4 L343.59999999999997,161.8 L319.4,172.6 Z" fill="#62686b" stroke="#2a2e30" stroke-width="0.5" />
<line x1="319.4" y1="176.5" x2="343.7" y2="165.8" stroke="#5c6265" stroke-width="0.6" />
<circle cx="326.4" cy="174" r="1.1" fill="#fff"/>
<circle cx="331.4" cy="171.8" r="1" fill="#222"/>
<circle cx="335.4" cy="170" r="0.9" fill="#eee"/>
</g>
</g>
<clipPath id="cc252272"><circle cx="252" cy="272.3" r="20.4"/></clipPath>
<circle cx="252" cy="272.3" r="21" fill="#fdfdfd" stroke="#e0dfda" stroke-width="1.2"/>
<g clip-path="url(#cc252272)">
<g transform="translate(252,272.3) scale(1.0) translate(-252,-272.3)">
<path d="M238,293.3 V275.8 L243,273.8 L273,262.3 V293.3 Z" fill="#e2f0f5" stroke="none" stroke-width="1" />
<path d="M238,293.3 V275.8 L243,273.8" fill="none" stroke="#6b7678" stroke-width="0.8" />
<path d="M244,271.8 L268,261.0 L268.5,270.3 L246,280.8 L244,280.8 Z" fill="#979da0" stroke="#3a3f41" stroke-width="0.7" />
<path d="M242,265.8 L266,255.0 L267,257.3 L243,268.1 Z" fill="#4a5053" stroke="#2a2e30" stroke-width="0.5" />
<path d="M243,268.1 L267,257.3 L267.5,258.7 L243.4,269.5 Z" fill="#d9dcdd" stroke="none" stroke-width="1" />
<path d="M243.4,269.5 L267.5,258.7 L268.2,261.1 L244,271.90000000000003 Z" fill="#62686b" stroke="#2a2e30" stroke-width="0.5" />
<line x1="244" y1="275.8" x2="268.3" y2="265.1" stroke="#5c6265" stroke-width="0.6" />
<circle cx="251" cy="273.3" r="1.1" fill="#fff"/>
<circle cx="256" cy="271.1" r="1" fill="#222"/>
<circle cx="260" cy="269.3" r="0.9" fill="#eee"/>
</g>
</g>
<clipPath id="cc327229"><circle cx="327.4" cy="229.3" r="21.2"/></clipPath>
<circle cx="327.4" cy="229.3" r="21.8" fill="#fdfdfd" stroke="#e0dfda" stroke-width="1.2"/>
<g clip-path="url(#cc327229)">
<g transform="translate(326.4,230.3) scale(1.35) translate(-327.4,-229.3)">
<path d="M313.4,251.10000000000002 V232.8 L318.4,230.8 L349.2,219.3 V251.10000000000002 Z" fill="#e2f0f5" stroke="none" stroke-width="1" />
<path d="M313.4,251.10000000000002 V232.8 L318.4,230.8" fill="none" stroke="#6b7678" stroke-width="0.8" />
<path d="M319.4,228.8 L343.4,218.0 L343.9,227.3 L321.4,237.8 L319.4,237.8 Z" fill="#979da0" stroke="#3a3f41" stroke-width="0.7" />
<path d="M317.4,222.8 L341.4,212.0 L342.4,214.3 L318.4,225.10000000000002 Z" fill="#4a5053" stroke="#2a2e30" stroke-width="0.5" />
<path d="M318.4,225.10000000000002 L342.4,214.3 L342.9,215.70000000000002 L318.79999999999995,226.5 Z" fill="#d9dcdd" stroke="none" stroke-width="1" />
<path d="M318.79999999999995,226.5 L342.9,215.70000000000002 L343.59999999999997,218.10000000000002 L319.4,228.9 Z" fill="#62686b" stroke="#2a2e30" stroke-width="0.5" />
<line x1="319.4" y1="232.8" x2="343.7" y2="222.10000000000002" stroke="#5c6265" stroke-width="0.6" />
<circle cx="326.4" cy="230.3" r="1.1" fill="#fff"/>
<circle cx="331.4" cy="228.10000000000002" r="1" fill="#222"/>
<circle cx="335.4" cy="226.3" r="0.9" fill="#eee"/>
</g>
</g>
<text x="627.3" y="90" font-size="10.5" text-anchor="start" fill="#383838" font-weight="normal" textLength="111" lengthAdjust="spacingAndGlyphs" stroke="#383838" stroke-width="0.3">Možnosti uchycení skla</text>
<path d="M616.4,101.8 H629.9 V106.8 H656.4 V101.8 H673.7 C675.2,109.8 672.2,117.8 673.7,121.8 C675.2,127.8 672.7,133.3 673.7,139.3 C663.7,140.5 653.7,140.8 645.05,140.10000000000002 C634.4,139.3 624.4,138.8 616.4,139.3 Z" fill="url(#pglass)" stroke="none" stroke-width="1" />
<path d="M616.4,101.8 H629.9 V106.8 H656.4 V101.8 H673.7" fill="none" stroke="#8f9ea2" stroke-width="0.8" />
<path d="M673.7,101.8 C675.2,109.8 672.2,117.8 673.7,121.8 C675.2,127.8 672.7,133.3 673.7,139.3 C663.7,140.5 653.7,140.8 645.05,140.10000000000002 C634.4,139.3 624.4,138.8 616.4,139.3" fill="none" stroke="#667477" stroke-width="0.8" />
<line x1="616.4" y1="101.8" x2="616.4" y2="139.3" stroke="#8fbfcc" stroke-width="0.9" />
<path d="M692.7,100.7 H748.5 C750.0,105.7 751.0,109.7 750.3,112.7 C749.0,116.7 746.5,120.7 746.7,125.7 L747.5,138.5 C739.5,140.0 732.5,140.5 725.5,140.0 C717.5,139.5 711.5,136.5 705.5,136.7 C700.7,137.0 696.7,138.5 692.7,138.5 Z" fill="url(#pglass)" stroke="none" stroke-width="1" />
<path d="M748.5,100.7 C750.0,105.7 751.0,109.7 750.3,112.7 C749.0,116.7 746.5,120.7 746.7,125.7 L747.5,138.5 C739.5,140.0 732.5,140.5 725.5,140.0 C717.5,139.5 711.5,136.5 705.5,136.7 C700.7,137.0 696.7,138.5 692.7,138.5" fill="none" stroke="#667477" stroke-width="0.8" />
<line x1="692.7" y1="100.7" x2="692.7" y2="138.5" stroke="#8fbfcc" stroke-width="0.9" />
<path d="M616.6,207.8 H643.1 V203.8 H673.2 C674.7,211.8 671.7,219.8 673.2,223.8 C674.7,229.8 672.2,235.7 673.2,241.7 C663.2,242.89999999999998 653.2,243.2 644.9000000000001,242.5 C634.6,241.7 624.6,241.2 616.6,241.7 Z" fill="url(#pglass)" stroke="none" stroke-width="1" />
<path d="M616.6,207.8 H643.1 V203.8 H673.2" fill="none" stroke="#8f9ea2" stroke-width="0.8" />
<path d="M673.2,203.8 C674.7,211.8 671.7,219.8 673.2,223.8 C674.7,229.8 672.2,235.7 673.2,241.7 C663.2,242.89999999999998 653.2,243.2 644.9000000000001,242.5 C634.6,241.7 624.6,241.2 616.6,241.7" fill="none" stroke="#667477" stroke-width="0.8" />
<line x1="616.6" y1="207.8" x2="616.6" y2="241.7" stroke="#8fbfcc" stroke-width="0.9" />
<line x1="646.6" y1="125" x2="646.6" y2="147" stroke="#cdbfc0" stroke-width="0.8" />
<line x1="722.7" y1="124" x2="722.7" y2="145.7" stroke="#cdbfc0" stroke-width="0.8" />
<line x1="723" y1="188.3" x2="723" y2="202.9" stroke="#cdbfc0" stroke-width="0.8" />
<line x1="646.8" y1="228" x2="646.8" y2="247.3" stroke="#cdbfc0" stroke-width="0.8" />
<clipPath id="cc646168"><circle cx="646.8" cy="168" r="20.4"/></clipPath>
<circle cx="646.8" cy="168" r="21" fill="#fdfdfd" stroke="#e0dfda" stroke-width="1.2"/>
<g clip-path="url(#cc646168)">
<g transform="translate(646.8,168) scale(1.0) translate(-646.8,-168)">
<path d="M632.8,189 V171.5 L637.8,169.5 L667.8,158 V189 Z" fill="#e2f0f5" stroke="none" stroke-width="1" />
<path d="M632.8,189 V171.5 L637.8,169.5" fill="none" stroke="#6b7678" stroke-width="0.8" />
<path d="M638.8,167.5 L662.8,156.7 L663.3,166 L640.8,176.5 L638.8,176.5 Z" fill="#979da0" stroke="#3a3f41" stroke-width="0.7" />
<path d="M636.8,161.5 L660.8,150.7 L661.8,153 L637.8,163.8 Z" fill="#4a5053" stroke="#2a2e30" stroke-width="0.5" />
<path d="M637.8,163.8 L661.8,153 L662.3,154.4 L638.1999999999999,165.2 Z" fill="#d9dcdd" stroke="none" stroke-width="1" />
<path d="M638.1999999999999,165.2 L662.3,154.4 L663.0,156.8 L638.8,167.6 Z" fill="#62686b" stroke="#2a2e30" stroke-width="0.5" />
<line x1="638.8" y1="171.5" x2="663.0999999999999" y2="160.8" stroke="#5c6265" stroke-width="0.6" />
<circle cx="645.8" cy="169" r="1.1" fill="#fff"/>
<circle cx="650.8" cy="166.8" r="1" fill="#222"/>
<circle cx="654.8" cy="165" r="0.9" fill="#eee"/>
</g>
</g>
<clipPath id="cc723167"><circle cx="723.5" cy="167" r="20.7"/></clipPath>
<circle cx="723.5" cy="167" r="21.3" fill="#fdfdfd" stroke="#e0dfda" stroke-width="1.2"/>
<g clip-path="url(#cc723167)">
<g transform="translate(723.5,165.5) scale(1.12) translate(-723.5,-167)">
<path d="M709.5,188.3 V170.5 L714.5,168.5 L744.8,157 V188.3 Z" fill="#e2f0f5" stroke="none" stroke-width="1" />
<path d="M709.5,188.3 V170.5 L714.5,168.5" fill="none" stroke="#6b7678" stroke-width="0.8" />
<path d="M715.5,166.5 L739.5,155.7 L740.0,165 L717.5,175.5 L715.5,175.5 Z" fill="#979da0" stroke="#3a3f41" stroke-width="0.7" />
<path d="M713.5,160.5 L737.5,149.7 L738.5,152 L714.5,162.8 Z" fill="#4a5053" stroke="#2a2e30" stroke-width="0.5" />
<path d="M714.5,162.8 L738.5,152 L739.0,153.4 L714.9,164.2 Z" fill="#d9dcdd" stroke="none" stroke-width="1" />
<path d="M714.9,164.2 L739.0,153.4 L739.7,155.8 L715.5,166.6 Z" fill="#62686b" stroke="#2a2e30" stroke-width="0.5" />
<line x1="715.5" y1="170.5" x2="739.8" y2="159.8" stroke="#5c6265" stroke-width="0.6" />
<circle cx="722.5" cy="168" r="1.1" fill="#fff"/>
<circle cx="727.5" cy="165.8" r="1" fill="#222"/>
<circle cx="731.5" cy="164" r="0.9" fill="#eee"/>
</g>
</g>
<clipPath id="cc647268"><circle cx="647.2" cy="268.3" r="20.4"/></clipPath>
<circle cx="647.2" cy="268.3" r="21" fill="#fdfdfd" stroke="#e0dfda" stroke-width="1.2"/>
<g clip-path="url(#cc647268)">
<g transform="translate(647.2,268.3) scale(1.0) translate(-647.2,-268.3)">
<path d="M633.2,289.3 V271.8 L638.2,269.8 L668.2,258.3 V289.3 Z" fill="#e2f0f5" stroke="none" stroke-width="1" />
<path d="M633.2,289.3 V271.8 L638.2,269.8" fill="none" stroke="#6b7678" stroke-width="0.8" />
<path d="M639.2,267.8 L663.2,257.0 L663.7,266.3 L641.2,276.8 L639.2,276.8 Z" fill="#979da0" stroke="#3a3f41" stroke-width="0.7" />
<path d="M637.2,261.8 L661.2,251.0 L662.2,253.3 L638.2,264.1 Z" fill="#4a5053" stroke="#2a2e30" stroke-width="0.5" />
<path d="M638.2,264.1 L662.2,253.3 L662.7,254.70000000000002 L638.6,265.5 Z" fill="#d9dcdd" stroke="none" stroke-width="1" />
<path d="M638.6,265.5 L662.7,254.70000000000002 L663.4000000000001,257.1 L639.2,267.90000000000003 Z" fill="#62686b" stroke="#2a2e30" stroke-width="0.5" />
<line x1="639.2" y1="271.8" x2="663.5" y2="261.1" stroke="#5c6265" stroke-width="0.6" />
<circle cx="646.2" cy="269.3" r="1.1" fill="#fff"/>
<circle cx="651.2" cy="267.1" r="1" fill="#222"/>
<circle cx="655.2" cy="265.3" r="0.9" fill="#eee"/>
</g>
</g>
<clipPath id="cc724224"><circle cx="724.5" cy="224.7" r="21.2"/></clipPath>
<circle cx="724.5" cy="224.7" r="21.8" fill="#fdfdfd" stroke="#e0dfda" stroke-width="1.2"/>
<g clip-path="url(#cc724224)">
<g transform="translate(723.5,225.7) scale(1.35) translate(-724.5,-224.7)">
<path d="M710.5,246.5 V228.2 L715.5,226.2 L746.3,214.7 V246.5 Z" fill="#e2f0f5" stroke="none" stroke-width="1" />
<path d="M710.5,246.5 V228.2 L715.5,226.2" fill="none" stroke="#6b7678" stroke-width="0.8" />
<path d="M716.5,224.2 L740.5,213.39999999999998 L741.0,222.7 L718.5,233.2 L716.5,233.2 Z" fill="#979da0" stroke="#3a3f41" stroke-width="0.7" />
<path d="M714.5,218.2 L738.5,207.39999999999998 L739.5,209.7 L715.5,220.5 Z" fill="#4a5053" stroke="#2a2e30" stroke-width="0.5" />
<path d="M715.5,220.5 L739.5,209.7 L740.0,211.1 L715.9,221.89999999999998 Z" fill="#d9dcdd" stroke="none" stroke-width="1" />
<path d="M715.9,221.89999999999998 L740.0,211.1 L740.7,213.5 L716.5,224.29999999999998 Z" fill="#62686b" stroke="#2a2e30" stroke-width="0.5" />
<line x1="716.5" y1="228.2" x2="740.8" y2="217.5" stroke="#5c6265" stroke-width="0.6" />
<circle cx="723.5" cy="225.7" r="1.1" fill="#fff"/>
<circle cx="728.5" cy="223.5" r="1" fill="#222"/>
<circle cx="732.5" cy="221.7" r="0.9" fill="#eee"/>
</g>
</g>
<text x="592.6" y="308.5" font-size="11.5" text-anchor="start" fill="#111" font-weight="bold" textLength="165" lengthAdjust="spacingAndGlyphs" >Kotvení úchytek na stěnu 80 kg</text>
<rect x="590" y="323.5" width="181.8" height="91.5" fill="none" stroke="#111" stroke-width="1.2" />
<line x1="590" y1="342" x2="771.8" y2="342" stroke="#111" stroke-width="1.1" />
<line x1="590" y1="361" x2="771.8" y2="361" stroke="#111" stroke-width="1.1" />
<line x1="590" y1="379.5" x2="771.8" y2="379.5" stroke="#111" stroke-width="1.1" />
<line x1="590" y1="397.6" x2="771.8" y2="397.6" stroke="#111" stroke-width="1.1" />
<line x1="673" y1="323.5" x2="673" y2="415" stroke="#111" stroke-width="1.1" />
<text x="596.8" y="336.5" font-size="11.5" text-anchor="start" fill="#1a1a1a" font-weight="normal" textLength="66" lengthAdjust="spacingAndGlyphs" >Délka profilu</text>
<text x="679.4" y="336.5" font-size="11.5" text-anchor="start" fill="#1a1a1a" font-weight="normal" textLength="78" lengthAdjust="spacingAndGlyphs" >Počet úchytek*</text>
<text x="631.3" y="355.6" font-size="11.5" text-anchor="middle" fill="#1a1a1a" font-weight="normal" textLength="49" lengthAdjust="spacingAndGlyphs" >1500 mm</text>
<text x="722.5" y="355.6" font-size="11.5" text-anchor="middle" fill="#1a1a1a" font-weight="normal" >6 ks</text>
<text x="631.3" y="374" font-size="11.5" text-anchor="middle" fill="#1a1a1a" font-weight="normal" textLength="49" lengthAdjust="spacingAndGlyphs" >2000 mm</text>
<text x="722.5" y="374" font-size="11.5" text-anchor="middle" fill="#1a1a1a" font-weight="normal" >8 ks</text>
<text x="631.3" y="392.6" font-size="11.5" text-anchor="middle" fill="#1a1a1a" font-weight="normal" textLength="49" lengthAdjust="spacingAndGlyphs" >3000 mm</text>
<text x="722.5" y="392.6" font-size="11.5" text-anchor="middle" fill="#1a1a1a" font-weight="normal" >12 ks</text>
<text x="631.3" y="410.8" font-size="11.5" text-anchor="middle" fill="#1a1a1a" font-weight="normal" textLength="49" lengthAdjust="spacingAndGlyphs" >4000 mm</text>
<text x="722.5" y="410.8" font-size="11.5" text-anchor="middle" fill="#1a1a1a" font-weight="normal" >16 ks</text>
<text x="592.6" y="425.6" font-size="9.6" text-anchor="start" fill="#1a1a1a" font-weight="normal" textLength="161" lengthAdjust="spacingAndGlyphs" >*doporučený počet montážních prvků</text>
<rect x="39.4" y="432.6" width="241.6" height="26.8" fill="url(#dots)" stroke="none" stroke-width="1" />
<rect x="39.4" y="432.6" width="241.6" height="26.8" fill="none" stroke="#a9a9a9" stroke-width="0.9" />
<text x="159" y="448.4" font-size="10.5" text-anchor="middle" fill="#222" font-weight="normal" textLength="24" lengthAdjust="spacingAndGlyphs" >Strop</text>
<path d="M47.6,460.8 H152.5 C155.5,464 150.5,468 153.5,471 L152.5,475.3 H47.6 Z" fill="#bfc1c3" stroke="#3f4446" stroke-width="0.9" />
<rect x="48.1" y="461.3" width="103.9" height="2.2" fill="#7d8284" stroke="none" stroke-width="1" />
<rect x="48.1" y="472.6" width="103.9" height="2.2" fill="#8a8f91" stroke="none" stroke-width="1" />
<rect x="48.1" y="463.5" width="103.9" height="9.1" fill="#b3b6b8" stroke="none" stroke-width="1" />
<path d="M157.5,460.8 H264.8 V475.3 H157.5 L158.5,471 C155.5,468 160.5,464 157.5,460.8 Z" fill="#bfc1c3" stroke="#3f4446" stroke-width="0.9" />
<rect x="158.0" y="461.3" width="106.30000000000001" height="2.2" fill="#7d8284" stroke="none" stroke-width="1" />
<rect x="158.0" y="472.6" width="106.30000000000001" height="2.2" fill="#8a8f91" stroke="none" stroke-width="1" />
<rect x="158.0" y="463.5" width="106.30000000000001" height="9.1" fill="#b3b6b8" stroke="none" stroke-width="1" />
<path d="M53,505 H152.5 C156,512 149,520 152.5,531.2 H53 Z" fill="url(#gstrip)" stroke="#5f7d84" stroke-width="0.9" />
<path d="M53,478.8 H152.5 C156,486 149,498 152.5,505.6 H53 Z" fill="#bec1c3" stroke="#4a5052" stroke-width="1.3" />
<line x1="53" y1="493.8" x2="152" y2="493.8" stroke="#6d7476" stroke-width="0.7" />
<rect x="59.4" y="481.9" width="70" height="11.6" fill="#c9e4ec" stroke="#55727a" stroke-width="0.6" />
<circle cx="64.1" cy="489.6" r="2.9" fill="#a9d2dc" stroke="#33555e" stroke-width="0.7"/>
<circle cx="64.1" cy="489.6" r="1" fill="#33555e"/>
<circle cx="74.2" cy="489.6" r="2.9" fill="#a9d2dc" stroke="#33555e" stroke-width="0.7"/>
<circle cx="74.2" cy="489.6" r="1" fill="#33555e"/>
<circle cx="115.6" cy="489.6" r="2.9" fill="#a9d2dc" stroke="#33555e" stroke-width="0.7"/>
<circle cx="115.6" cy="489.6" r="1" fill="#33555e"/>
<circle cx="125.0" cy="489.6" r="2.9" fill="#a9d2dc" stroke="#33555e" stroke-width="0.7"/>
<circle cx="125.0" cy="489.6" r="1" fill="#33555e"/>
<rect x="62.3" y="483" width="2.2" height="2.6" fill="#2f4448" stroke="none" stroke-width="1" />
<rect x="66.9" y="483" width="2.2" height="2.6" fill="#2f4448" stroke="none" stroke-width="1" />
<rect x="72.4" y="483" width="2.2" height="2.6" fill="#2f4448" stroke="none" stroke-width="1" />
<rect x="114.80000000000001" y="483" width="2.2" height="2.6" fill="#2f4448" stroke="none" stroke-width="1" />
<rect x="119.30000000000001" y="483" width="2.2" height="2.6" fill="#2f4448" stroke="none" stroke-width="1" />
<rect x="124.30000000000001" y="483" width="2.2" height="2.6" fill="#2f4448" stroke="none" stroke-width="1" />
<rect x="78.8" y="483.9" width="31.4" height="7.3" fill="#d8eef3" stroke="#4b6a72" stroke-width="0.7" />
<rect x="81.4" y="486" width="26" height="3" fill="#bfe0e8" stroke="#6b8a92" stroke-width="0.4" />
<line x1="75.4" y1="492.6" x2="113.4" y2="492.6" stroke="#6b8a92" stroke-width="0.6" />
<rect x="59.4" y="494" width="70" height="9.2" fill="#3c5154" stroke="none" stroke-width="1" />
<rect x="60.4" y="494.6" width="16.300000000000004" height="7.8" fill="#9fd2d6" stroke="none" stroke-width="1" />
<rect x="78.7" y="494.6" width="14.799999999999997" height="7.8" fill="#9fd2d6" stroke="none" stroke-width="1" />
<rect x="95.5" y="494.6" width="14.900000000000006" height="7.8" fill="#9fd2d6" stroke="none" stroke-width="1" />
<rect x="112.4" y="494.6" width="16.0" height="7.8" fill="#9fd2d6" stroke="none" stroke-width="1" />
<path d="M157.5,492.2 H259.4 V531.2 H157.5 C160.5,520 154,505 157.5,492.2 Z" fill="url(#gstrip)" stroke="#5f7d84" stroke-width="0.9" />
<rect x="177.8" y="478.8" width="81.6" height="26.9" fill="#bec1c3" stroke="#4a5052" stroke-width="1.3" />
<line x1="177.8" y1="493.8" x2="259.4" y2="493.8" stroke="#6d7476" stroke-width="0.7" />
<rect x="183.6" y="481.9" width="70" height="11.6" fill="#c9e4ec" stroke="#55727a" stroke-width="0.6" />
<circle cx="188.29999999999998" cy="489.6" r="2.9" fill="#a9d2dc" stroke="#33555e" stroke-width="0.7"/>
<circle cx="188.29999999999998" cy="489.6" r="1" fill="#33555e"/>
<circle cx="198.4" cy="489.6" r="2.9" fill="#a9d2dc" stroke="#33555e" stroke-width="0.7"/>
<circle cx="198.4" cy="489.6" r="1" fill="#33555e"/>
<circle cx="239.8" cy="489.6" r="2.9" fill="#a9d2dc" stroke="#33555e" stroke-width="0.7"/>
<circle cx="239.8" cy="489.6" r="1" fill="#33555e"/>
<circle cx="249.2" cy="489.6" r="2.9" fill="#a9d2dc" stroke="#33555e" stroke-width="0.7"/>
<circle cx="249.2" cy="489.6" r="1" fill="#33555e"/>
<rect x="186.5" y="483" width="2.2" height="2.6" fill="#2f4448" stroke="none" stroke-width="1" />
<rect x="191.1" y="483" width="2.2" height="2.6" fill="#2f4448" stroke="none" stroke-width="1" />
<rect x="196.6" y="483" width="2.2" height="2.6" fill="#2f4448" stroke="none" stroke-width="1" />
<rect x="239.0" y="483" width="2.2" height="2.6" fill="#2f4448" stroke="none" stroke-width="1" />
<rect x="243.5" y="483" width="2.2" height="2.6" fill="#2f4448" stroke="none" stroke-width="1" />
<rect x="248.5" y="483" width="2.2" height="2.6" fill="#2f4448" stroke="none" stroke-width="1" />
<rect x="203.0" y="483.9" width="31.4" height="7.3" fill="#d8eef3" stroke="#4b6a72" stroke-width="0.7" />
<rect x="205.6" y="486" width="26" height="3" fill="#bfe0e8" stroke="#6b8a92" stroke-width="0.4" />
<line x1="199.6" y1="492.6" x2="237.6" y2="492.6" stroke="#6b8a92" stroke-width="0.6" />
<rect x="183.6" y="494" width="70" height="9.2" fill="#3c5154" stroke="none" stroke-width="1" />
<rect x="184.6" y="494.6" width="16.30000000000001" height="7.8" fill="#9fd2d6" stroke="none" stroke-width="1" />
<rect x="202.9" y="494.6" width="14.799999999999983" height="7.8" fill="#9fd2d6" stroke="none" stroke-width="1" />
<rect x="219.7" y="494.6" width="14.900000000000006" height="7.8" fill="#9fd2d6" stroke="none" stroke-width="1" />
<rect x="236.6" y="494.6" width="16.0" height="7.8" fill="#9fd2d6" stroke="none" stroke-width="1" />
<rect x="86.1" y="465" width="14.900000000000006" height="7" fill="#8d9294" stroke="#4a4f51" stroke-width="0.5" />
<circle cx="83.1" cy="468.6" r="4.8" fill="#6e7577" stroke="#222829" stroke-width="0.9"/>
<circle cx="83.1" cy="468.6" r="2.1" fill="#e4e7e8"/>
<circle cx="104" cy="468.6" r="4.8" fill="#6e7577" stroke="#222829" stroke-width="0.9"/>
<circle cx="104" cy="468.6" r="2.1" fill="#e4e7e8"/>
<rect x="210.8" y="465" width="15.099999999999994" height="7" fill="#8d9294" stroke="#4a4f51" stroke-width="0.5" />
<circle cx="207.8" cy="468.6" r="4.8" fill="#6e7577" stroke="#222829" stroke-width="0.9"/>
<circle cx="207.8" cy="468.6" r="2.1" fill="#e4e7e8"/>
<circle cx="228.9" cy="468.6" r="4.8" fill="#6e7577" stroke="#222829" stroke-width="0.9"/>
<circle cx="228.9" cy="468.6" r="2.1" fill="#e4e7e8"/>
<rect x="91.39999999999999" y="474" width="4.8" height="6" fill="#c8e3ea" stroke="#3e5d64" stroke-width="0.6" />
<path d="M88.8,482.5 L93.8,478.5 L98.8,482.5 Z" fill="#c8e3ea" stroke="#3e5d64" stroke-width="0.5" />
<rect x="216.7" y="474" width="4.8" height="6" fill="#c8e3ea" stroke="#3e5d64" stroke-width="0.6" />
<path d="M214.1,482.5 L219.1,478.5 L224.1,482.5 Z" fill="#c8e3ea" stroke="#3e5d64" stroke-width="0.5" />
<rect x="48.6" y="465" width="15" height="6.5" fill="#97b493" stroke="#3f5c43" stroke-width="0.6" />
<rect x="64" y="465.5" width="13" height="5.5" fill="#d0d3d4" stroke="#7d8284" stroke-width="0.5" />
<rect x="237.5" y="465.5" width="10" height="5.5" fill="#d0d3d4" stroke="#7d8284" stroke-width="0.5" />
<rect x="248.4" y="465" width="15" height="6.5" fill="#97b493" stroke="#3f5c43" stroke-width="0.6" />
<text x="46.6" y="511.3" font-size="7.4" text-anchor="middle" fill="#222" font-weight="bold" >3</text>
<line x1="40" y1="513.4" x2="58" y2="513.4" stroke="#999" stroke-width="0.6" />
<line x1="42" y1="523.5" x2="60" y2="523.5" stroke="#999" stroke-width="0.6" />
<line x1="58" y1="505" x2="58" y2="523.5" stroke="#bbb" stroke-width="0.5" />
<text x="69" y="521.4" font-size="8.4" text-anchor="start" fill="#222" font-weight="bold" textLength="19.5" lengthAdjust="spacingAndGlyphs" >Min. 10</text>
<line x1="58" y1="523.5" x2="88" y2="523.5" stroke="#999" stroke-width="0.6" />
<text x="268.2" y="511.3" font-size="7.4" text-anchor="middle" fill="#222" font-weight="bold" >3</text>
<line x1="252" y1="513.4" x2="272" y2="513.4" stroke="#999" stroke-width="0.6" />
<line x1="254" y1="523.5" x2="264" y2="523.5" stroke="#999" stroke-width="0.6" />
<line x1="253.6" y1="505" x2="253.6" y2="523.5" stroke="#bbb" stroke-width="0.5" />
<text x="227" y="521.4" font-size="8.4" text-anchor="start" fill="#222" font-weight="bold" textLength="20" lengthAdjust="spacingAndGlyphs" >Min. 10</text>
<line x1="180" y1="513.4" x2="252" y2="513.4" stroke="#bbb" stroke-width="0.5" />
<line x1="225" y1="523.5" x2="253" y2="523.5" stroke="#999" stroke-width="0.6" />
<text x="524" y="453.1" font-size="10.5" text-anchor="middle" fill="#222" font-weight="normal" textLength="26" lengthAdjust="spacingAndGlyphs" >Stena</text>
<path d="M427.1,460.8 H532.0 C535.0,464 530.0,468 533.0,471 L532.0,475.3 H427.1 Z" fill="#bfc1c3" stroke="#3f4446" stroke-width="0.9" />
<rect x="427.6" y="461.3" width="103.89999999999998" height="2.2" fill="#7d8284" stroke="none" stroke-width="1" />
<rect x="427.6" y="472.6" width="103.89999999999998" height="2.2" fill="#8a8f91" stroke="none" stroke-width="1" />
<rect x="427.6" y="463.5" width="103.89999999999998" height="9.1" fill="#b3b6b8" stroke="none" stroke-width="1" />
<path d="M537.0,460.8 H644.3 V475.3 H537.0 L538.0,471 C535.0,468 540.0,464 537.0,460.8 Z" fill="#bfc1c3" stroke="#3f4446" stroke-width="0.9" />
<rect x="537.5" y="461.3" width="106.29999999999995" height="2.2" fill="#7d8284" stroke="none" stroke-width="1" />
<rect x="537.5" y="472.6" width="106.29999999999995" height="2.2" fill="#8a8f91" stroke="none" stroke-width="1" />
<rect x="537.5" y="463.5" width="106.29999999999995" height="9.1" fill="#b3b6b8" stroke="none" stroke-width="1" />
<path d="M432.5,505 H532.0 C535.5,512 528.5,520 532.0,531.2 H432.5 Z" fill="url(#gstrip)" stroke="#5f7d84" stroke-width="0.9" />
<path d="M432.5,478.8 H532.0 C535.5,486 528.5,498 532.0,505.6 H432.5 Z" fill="#bec1c3" stroke="#4a5052" stroke-width="1.3" />
<line x1="432.5" y1="493.8" x2="531.5" y2="493.8" stroke="#6d7476" stroke-width="0.7" />
<rect x="438.9" y="481.9" width="70" height="11.6" fill="#c9e4ec" stroke="#55727a" stroke-width="0.6" />
<circle cx="443.59999999999997" cy="489.6" r="2.9" fill="#a9d2dc" stroke="#33555e" stroke-width="0.7"/>
<circle cx="443.59999999999997" cy="489.6" r="1" fill="#33555e"/>
<circle cx="453.7" cy="489.6" r="2.9" fill="#a9d2dc" stroke="#33555e" stroke-width="0.7"/>
<circle cx="453.7" cy="489.6" r="1" fill="#33555e"/>
<circle cx="495.09999999999997" cy="489.6" r="2.9" fill="#a9d2dc" stroke="#33555e" stroke-width="0.7"/>
<circle cx="495.09999999999997" cy="489.6" r="1" fill="#33555e"/>
<circle cx="504.5" cy="489.6" r="2.9" fill="#a9d2dc" stroke="#33555e" stroke-width="0.7"/>
<circle cx="504.5" cy="489.6" r="1" fill="#33555e"/>
<rect x="441.79999999999995" y="483" width="2.2" height="2.6" fill="#2f4448" stroke="none" stroke-width="1" />
<rect x="446.4" y="483" width="2.2" height="2.6" fill="#2f4448" stroke="none" stroke-width="1" />
<rect x="451.9" y="483" width="2.2" height="2.6" fill="#2f4448" stroke="none" stroke-width="1" />
<rect x="494.29999999999995" y="483" width="2.2" height="2.6" fill="#2f4448" stroke="none" stroke-width="1" />
<rect x="498.79999999999995" y="483" width="2.2" height="2.6" fill="#2f4448" stroke="none" stroke-width="1" />
<rect x="503.79999999999995" y="483" width="2.2" height="2.6" fill="#2f4448" stroke="none" stroke-width="1" />
<rect x="458.29999999999995" y="483.9" width="31.4" height="7.3" fill="#d8eef3" stroke="#4b6a72" stroke-width="0.7" />
<rect x="460.9" y="486" width="26" height="3" fill="#bfe0e8" stroke="#6b8a92" stroke-width="0.4" />
<line x1="454.9" y1="492.6" x2="492.9" y2="492.6" stroke="#6b8a92" stroke-width="0.6" />
<rect x="438.9" y="494" width="70" height="9.2" fill="#3c5154" stroke="none" stroke-width="1" />
<rect x="439.9" y="494.6" width="16.30000000000001" height="7.8" fill="#9fd2d6" stroke="none" stroke-width="1" />
<rect x="458.2" y="494.6" width="14.800000000000011" height="7.8" fill="#9fd2d6" stroke="none" stroke-width="1" />
<rect x="475.0" y="494.6" width="14.899999999999977" height="7.8" fill="#9fd2d6" stroke="none" stroke-width="1" />
<rect x="491.9" y="494.6" width="16.0" height="7.8" fill="#9fd2d6" stroke="none" stroke-width="1" />
<path d="M537.0,492.2 H638.9 V531.2 H537.0 C540.0,520 533.5,505 537.0,492.2 Z" fill="url(#gstrip)" stroke="#5f7d84" stroke-width="0.9" />
<rect x="557.3" y="478.8" width="81.6" height="26.9" fill="#bec1c3" stroke="#4a5052" stroke-width="1.3" />
<line x1="557.3" y1="493.8" x2="638.9" y2="493.8" stroke="#6d7476" stroke-width="0.7" />
<rect x="563.1" y="481.9" width="70" height="11.6" fill="#c9e4ec" stroke="#55727a" stroke-width="0.6" />
<circle cx="567.8000000000001" cy="489.6" r="2.9" fill="#a9d2dc" stroke="#33555e" stroke-width="0.7"/>
<circle cx="567.8000000000001" cy="489.6" r="1" fill="#33555e"/>
<circle cx="577.9" cy="489.6" r="2.9" fill="#a9d2dc" stroke="#33555e" stroke-width="0.7"/>
<circle cx="577.9" cy="489.6" r="1" fill="#33555e"/>
<circle cx="619.3000000000001" cy="489.6" r="2.9" fill="#a9d2dc" stroke="#33555e" stroke-width="0.7"/>
<circle cx="619.3000000000001" cy="489.6" r="1" fill="#33555e"/>
<circle cx="628.7" cy="489.6" r="2.9" fill="#a9d2dc" stroke="#33555e" stroke-width="0.7"/>
<circle cx="628.7" cy="489.6" r="1" fill="#33555e"/>
<rect x="566.0" y="483" width="2.2" height="2.6" fill="#2f4448" stroke="none" stroke-width="1" />
<rect x="570.6" y="483" width="2.2" height="2.6" fill="#2f4448" stroke="none" stroke-width="1" />
<rect x="576.1" y="483" width="2.2" height="2.6" fill="#2f4448" stroke="none" stroke-width="1" />
<rect x="618.5" y="483" width="2.2" height="2.6" fill="#2f4448" stroke="none" stroke-width="1" />
<rect x="623.0" y="483" width="2.2" height="2.6" fill="#2f4448" stroke="none" stroke-width="1" />
<rect x="628.0" y="483" width="2.2" height="2.6" fill="#2f4448" stroke="none" stroke-width="1" />
<rect x="582.5" y="483.9" width="31.4" height="7.3" fill="#d8eef3" stroke="#4b6a72" stroke-width="0.7" />
<rect x="585.1" y="486" width="26" height="3" fill="#bfe0e8" stroke="#6b8a92" stroke-width="0.4" />
<line x1="579.1" y1="492.6" x2="617.1" y2="492.6" stroke="#6b8a92" stroke-width="0.6" />
<rect x="563.1" y="494" width="70" height="9.2" fill="#3c5154" stroke="none" stroke-width="1" />
<rect x="564.1" y="494.6" width="16.299999999999955" height="7.8" fill="#9fd2d6" stroke="none" stroke-width="1" />
<rect x="582.4" y="494.6" width="14.800000000000068" height="7.8" fill="#9fd2d6" stroke="none" stroke-width="1" />
<rect x="599.2" y="494.6" width="14.899999999999977" height="7.8" fill="#9fd2d6" stroke="none" stroke-width="1" />
<rect x="616.1" y="494.6" width="16.0" height="7.8" fill="#9fd2d6" stroke="none" stroke-width="1" />
<rect x="465.6" y="465" width="14.899999999999977" height="7" fill="#8d9294" stroke="#4a4f51" stroke-width="0.5" />
<circle cx="462.6" cy="468.6" r="4.8" fill="#6e7577" stroke="#222829" stroke-width="0.9"/>
<circle cx="462.6" cy="468.6" r="2.1" fill="#e4e7e8"/>
<circle cx="483.5" cy="468.6" r="4.8" fill="#6e7577" stroke="#222829" stroke-width="0.9"/>
<circle cx="483.5" cy="468.6" r="2.1" fill="#e4e7e8"/>
<rect x="590.3" y="465" width="15.100000000000023" height="7" fill="#8d9294" stroke="#4a4f51" stroke-width="0.5" />
<circle cx="587.3" cy="468.6" r="4.8" fill="#6e7577" stroke="#222829" stroke-width="0.9"/>
<circle cx="587.3" cy="468.6" r="2.1" fill="#e4e7e8"/>
<circle cx="608.4" cy="468.6" r="4.8" fill="#6e7577" stroke="#222829" stroke-width="0.9"/>
<circle cx="608.4" cy="468.6" r="2.1" fill="#e4e7e8"/>
<rect x="470.90000000000003" y="474" width="4.8" height="6" fill="#c8e3ea" stroke="#3e5d64" stroke-width="0.6" />
<path d="M468.3,482.5 L473.3,478.5 L478.3,482.5 Z" fill="#c8e3ea" stroke="#3e5d64" stroke-width="0.5" />
<rect x="596.2" y="474" width="4.8" height="6" fill="#c8e3ea" stroke="#3e5d64" stroke-width="0.6" />
<path d="M593.6,482.5 L598.6,478.5 L603.6,482.5 Z" fill="#c8e3ea" stroke="#3e5d64" stroke-width="0.5" />
<rect x="428.1" y="465" width="15" height="6.5" fill="#97b493" stroke="#3f5c43" stroke-width="0.6" />
<rect x="443.5" y="465.5" width="13" height="5.5" fill="#d0d3d4" stroke="#7d8284" stroke-width="0.5" />
<rect x="617.0" y="465.5" width="10" height="5.5" fill="#d0d3d4" stroke="#7d8284" stroke-width="0.5" />
<rect x="627.9" y="465" width="15" height="6.5" fill="#97b493" stroke="#3f5c43" stroke-width="0.6" />
<text x="426.1" y="511.3" font-size="7.4" text-anchor="middle" fill="#222" font-weight="bold" >3</text>
<line x1="419.5" y1="513.4" x2="437.5" y2="513.4" stroke="#999" stroke-width="0.6" />
<line x1="421.5" y1="523.5" x2="439.5" y2="523.5" stroke="#999" stroke-width="0.6" />
<line x1="437.5" y1="505" x2="437.5" y2="523.5" stroke="#bbb" stroke-width="0.5" />
<text x="448.5" y="521.4" font-size="8.4" text-anchor="start" fill="#222" font-weight="bold" textLength="19.5" lengthAdjust="spacingAndGlyphs" >Min. 10</text>
<line x1="437.5" y1="523.5" x2="467.5" y2="523.5" stroke="#999" stroke-width="0.6" />
<text x="647.7" y="511.3" font-size="7.4" text-anchor="middle" fill="#222" font-weight="bold" >3</text>
<line x1="631.5" y1="513.4" x2="651.5" y2="513.4" stroke="#999" stroke-width="0.6" />
<line x1="633.5" y1="523.5" x2="643.5" y2="523.5" stroke="#999" stroke-width="0.6" />
<line x1="633.1" y1="505" x2="633.1" y2="523.5" stroke="#bbb" stroke-width="0.5" />
<text x="606.5" y="521.4" font-size="8.4" text-anchor="start" fill="#222" font-weight="bold" textLength="20" lengthAdjust="spacingAndGlyphs" >Min. 10</text>
<line x1="559.5" y1="513.4" x2="631.5" y2="513.4" stroke="#bbb" stroke-width="0.5" />
<line x1="604.5" y1="523.5" x2="632.5" y2="523.5" stroke="#999" stroke-width="0.6" />
<rect x="445" y="452.4" width="20.5" height="8.8" fill="#c6e4ea" stroke="#48656a" stroke-width="0.8" />
<circle cx="450" cy="456.8" r="1.6" fill="#e9f5f8" stroke="#48656a" stroke-width="0.5"/>
<circle cx="460.5" cy="456.8" r="1.6" fill="#e9f5f8" stroke="#48656a" stroke-width="0.5"/>
<rect x="591.6" y="452.4" width="20.5" height="8.8" fill="#c6e4ea" stroke="#48656a" stroke-width="0.8" />
<circle cx="596.6" cy="456.8" r="1.6" fill="#e9f5f8" stroke="#48656a" stroke-width="0.5"/>
<circle cx="607.1" cy="456.8" r="1.6" fill="#e9f5f8" stroke="#48656a" stroke-width="0.5"/>
<line x1="414" y1="445.6" x2="455.6" y2="445.6" stroke="#888" stroke-width="0.7" />
<line x1="414" y1="443" x2="414" y2="462" stroke="#999" stroke-width="0.6" />
<text x="435.5" y="443.6" font-size="7.6" text-anchor="middle" fill="#222" font-weight="normal" textLength="6.2" lengthAdjust="spacingAndGlyphs" >50</text>
<line x1="602" y1="445.6" x2="645" y2="445.6" stroke="#888" stroke-width="0.7" />
<line x1="645" y1="443" x2="645" y2="460" stroke="#999" stroke-width="0.6" />
<text x="625" y="443.6" font-size="7.6" text-anchor="middle" fill="#222" font-weight="normal" textLength="6.2" lengthAdjust="spacingAndGlyphs" >50</text>
</svg></body></html>
